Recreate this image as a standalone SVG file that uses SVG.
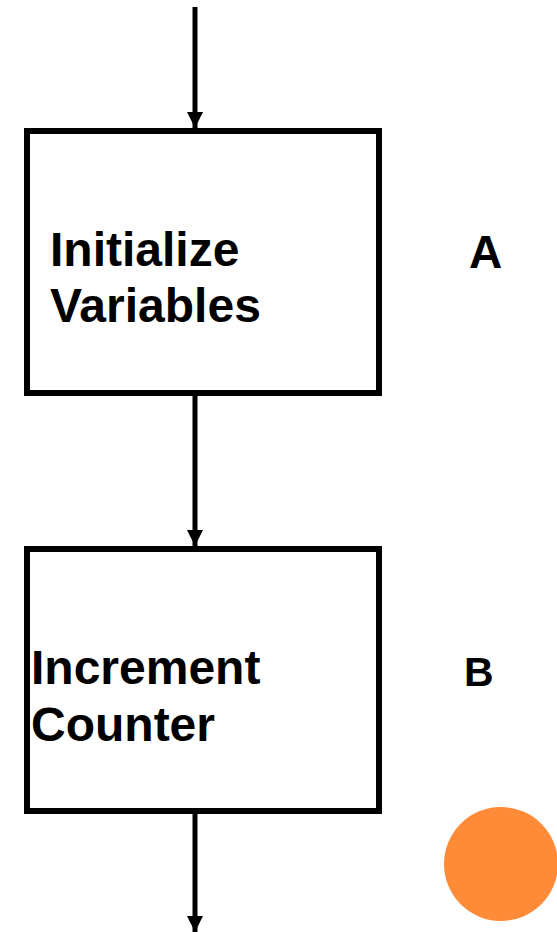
<svg xmlns="http://www.w3.org/2000/svg" width="557" height="932" viewBox="0 0 557 932">
<style>
.box{fill:#fff;stroke:#000;stroke-width:6}
.conn{stroke:#000;stroke-width:5;fill:none}
.t{font-family:"Liberation Sans",Arial,sans-serif;font-weight:bold;font-size:48px;fill:#000}
</style>
<defs>
<marker id="ah" markerUnits="userSpaceOnUse" markerWidth="18" markerHeight="16" refX="18" refY="9" orient="auto" viewBox="0 0 18 18">
<path d="M0,0 L18,9 L0,18 Z" fill="#000"/>
</marker>
</defs>
<rect width="557" height="932" fill="#fff"/>
<g id="connectors">
<line class="conn" x1="195" y1="7" x2="195" y2="128" marker-end="url(#ah)"/>
<line class="conn" x1="195" y1="396" x2="195" y2="546" marker-end="url(#ah)"/>
<line class="conn" x1="195" y1="814" x2="195" y2="932" marker-end="url(#ah)"/>
</g>
<g id="nodeA">
<rect class="box" x="27" y="131" width="352" height="262"/>
<text class="t" x="50" y="266">Initialize</text>
<text class="t" x="50" y="322">Variables</text>
</g>
<g id="labelA"><text class="t" x="469" y="268" style="font-size:46px">A</text></g>
<g id="nodeB">
<rect class="box" x="27" y="549" width="352" height="262"/>
<text class="t" x="31" y="684">Increment</text>
<text class="t" x="31" y="741">Counter</text>
</g>
<g id="labelB"><text class="t" x="464" y="686" style="font-size:41px">B</text></g>
<g id="dot"><circle cx="501" cy="864" r="57" fill="#ff8a38"/></g>
</svg>
